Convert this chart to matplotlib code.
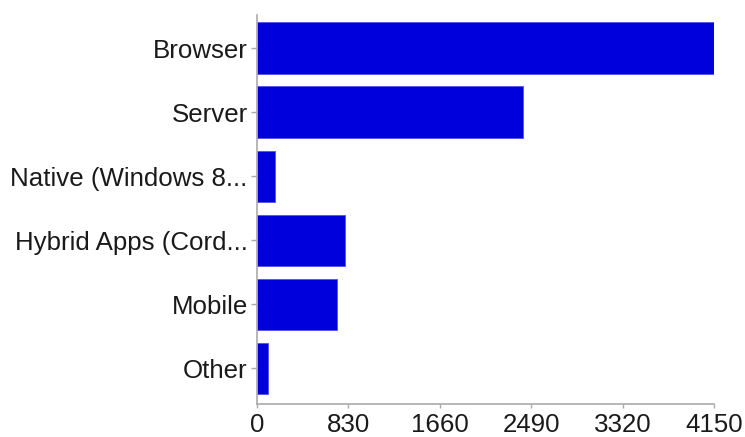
import matplotlib
matplotlib.use('Agg')
import matplotlib.pyplot as plt

categories = ["Browser", "Server", "Native (Windows 8...", "Hybrid Apps (Cord...", "Mobile", "Other"]
counts = [4150, 2418, 163, 804, 728, 105]
xticks = [0, 830, 1660, 2490, 3320, 4150]

plt.rcParams['font.family'] = ['Liberation Sans', 'DejaVu Sans']

fig = plt.figure(figsize=(7.45, 4.37), dpi=100)
ax = fig.add_axes([256.7/745, 1-404/437, (714.3-256.7)/745, (404-15)/437])

ax.barh(range(len(categories)), counts, height=0.8, color='#0000dc',
        edgecolor='#5050ee', linewidth=0.6)

ax.set_xlim(0, 4150)
ax.set_ylim(5.555, -0.515)
ax.set_yticks(range(len(categories)))
ax.set_yticklabels(categories)
ax.set_xticks(xticks)
ax.set_xticklabels([str(t) for t in xticks])

for s in ['top', 'right']:
    ax.spines[s].set_visible(False)
for s in ['left', 'bottom']:
    ax.spines[s].set_color('#aaaaaa')
    ax.spines[s].set_linewidth(1.2)

ax.tick_params(axis='y', length=4.5, width=1, color='#aaaaaa', pad=2,
               labelsize=18.6, labelcolor='#1a1a1a')
ax.tick_params(axis='x', length=3.2, width=1, color='#aaaaaa', pad=3,
               labelsize=18.6, labelcolor='#1a1a1a')

fig.savefig('out.png', dpi=100)
